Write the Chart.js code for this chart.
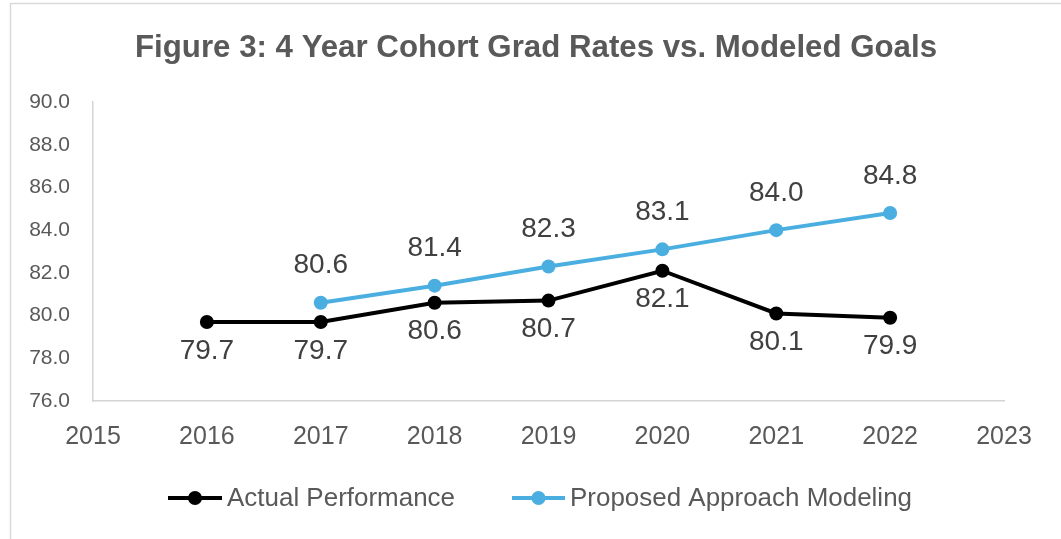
<!DOCTYPE html>
<html>
<head>
<meta charset="utf-8">
<title>Figure 3: 4 Year Cohort Grad Rates vs. Modeled Goals</title>
<script src="https://cdn.jsdelivr.net/npm/chart.js@4.4.1/dist/chart.umd.min.js"></script>
<style>
  html, body { margin: 0; padding: 0; background: #fff; }
  canvas { display: block; }
</style>
</head>
<body>
<canvas id="chart" width="1061" height="539"></canvas>
<script>
// ========== DATA ==========
const TITLE = 'Figure 3: 4 Year Cohort Grad Rates vs. Modeled Goals';
const ACTUAL_YEARS = [2016, 2017, 2018, 2019, 2020, 2021, 2022];
const ACTUAL_VALUES = [79.7, 79.7, 80.6, 80.7, 82.1, 80.1, 79.9];
const PROPOSED_YEARS = [2017, 2018, 2019, 2020, 2021, 2022];
const PROPOSED_VALUES = [80.6, 81.4, 82.3, 83.1, 84.0, 84.8];
const X_MIN = 2015, X_MAX = 2023;
const Y_MIN = 76, Y_MAX = 90, Y_STEP = 2;
const SERIES_NAMES = ['Actual Performance', 'Proposed Approach Modeling'];

// ========== STYLE ==========
const BLACK = '#000000';
const BLUE = '#4AAFE0';
const TEXT_GRAY = '#595959';
const LABEL_GRAY = '#404040';
const AXIS_GRAY = '#d4d4d4';
const NARROW = "'Liberation Sans Narrow', 'Liberation Sans', 'DejaVu Sans', sans-serif";
const SANS = "'Liberation Sans', Arial, sans-serif";

function toPoints(xs, ys) {
  return xs.map((x, i) => ({ x: x, y: ys[i] }));
}

// draw text at a given font size, squeezed sideways so it spans `width`
// (stands in for the condensed office font)
function drawSqueezed(ctx, text, font, x, y, width) {
  ctx.save();
  ctx.font = font;
  const w = ctx.measureText(text).width;
  ctx.translate(x, y);
  ctx.scale(width / w, 1);
  ctx.textAlign = 'left';
  ctx.textBaseline = 'alphabetic';
  ctx.fillText(text, 0, 0);
  ctx.restore();
}

// ========== PLUGINS ==========
const valueLabels = {
  id: 'valueLabels',
  afterDatasetsDraw(chart) {
    const ctx = chart.ctx;
    ctx.save();
    ctx.font = '28px ' + SANS;
    ctx.fillStyle = LABEL_GRAY;
    ctx.textAlign = 'center';
    ctx.textBaseline = 'middle';
    chart.data.datasets.forEach((ds, i) => {
      const meta = chart.getDatasetMeta(i);
      meta.data.forEach((pt, j) => {
        ctx.fillText(ds.data[j].y.toFixed(1), pt.x, pt.y + ds.labelOffset);
      });
    });
    ctx.restore();
  }
};

const frame = {
  id: 'frame',
  afterDraw(chart) {
    const ctx = chart.ctx;
    ctx.save();
    // outer border
    ctx.strokeStyle = '#d9d9d9';
    ctx.lineWidth = 1.5;
    ctx.strokeRect(10.5, 3.5, 1200, 700);

    // title
    ctx.fillStyle = TEXT_GRAY;
    drawSqueezed(ctx, TITLE, 'bold 32px ' + NARROW, 135, 57, 802);

    // legend
    const items = [
      { name: SERIES_NAMES[0], color: BLACK, x0: 168, x1: 222, tx: 227, tw: 228 },
      { name: SERIES_NAMES[1], color: BLUE, x0: 512, x1: 565, tx: 570, tw: 342 }
    ];
    const ly = 498;
    items.forEach(it => {
      ctx.strokeStyle = it.color;
      ctx.lineWidth = 4;
      ctx.beginPath();
      ctx.moveTo(it.x0, ly);
      ctx.lineTo(it.x1, ly);
      ctx.stroke();
      ctx.fillStyle = it.color;
      ctx.beginPath();
      ctx.arc((it.x0 + it.x1) / 2, ly, 7, 0, Math.PI * 2);
      ctx.fill();
      ctx.fillStyle = TEXT_GRAY;
      drawSqueezed(ctx, it.name, '25px ' + NARROW, it.tx, 506, it.tw);
    });
    ctx.restore();
  }
};

// ========== CHART ==========
const ctx = document.getElementById('chart').getContext('2d');
new Chart(ctx, {
  type: 'line',
  data: {
    datasets: [
      {
        label: SERIES_NAMES[0],
        data: toPoints(ACTUAL_YEARS, ACTUAL_VALUES),
        borderColor: BLACK,
        backgroundColor: BLACK,
        borderWidth: 4,
        pointRadius: 7,
        pointBorderWidth: 0,
        labelOffset: 29
      },
      {
        label: SERIES_NAMES[1],
        data: toPoints(PROPOSED_YEARS, PROPOSED_VALUES),
        borderColor: BLUE,
        backgroundColor: BLUE,
        borderWidth: 4,
        pointRadius: 7,
        pointBorderWidth: 0,
        labelOffset: -37
      }
    ]
  },
  options: {
    responsive: false,
    animation: false,
    layout: { padding: { top: 102, right: 57, left: 0, bottom: 0 } },
    plugins: {
      legend: { display: false },
      title: { display: false },
      tooltip: { enabled: false }
    },
    scales: {
      x: {
        type: 'linear',
        min: X_MIN,
        max: X_MAX,
        afterFit(scale) { scale.height = 138; },
        grid: { display: false, drawTicks: false },
        border: { display: true, color: AXIS_GRAY, width: 1.5 },
        ticks: {
          stepSize: 1,
          padding: 21,
          color: TEXT_GRAY,
          font: { family: SANS, size: 25 },
          callback: v => String(v)
        }
      },
      y: {
        min: Y_MIN,
        max: Y_MAX,
        afterFit(scale) { scale.width = 93; },
        grid: { display: false, drawTicks: false },
        border: { display: true, color: AXIS_GRAY, width: 1.5 },
        ticks: {
          stepSize: Y_STEP,
          padding: 23,
          color: TEXT_GRAY,
          font: { family: SANS, size: 21 },
          callback: v => v.toFixed(1)
        }
      }
    }
  },
  plugins: [valueLabels, frame]
});
</script>
</body>
</html>
